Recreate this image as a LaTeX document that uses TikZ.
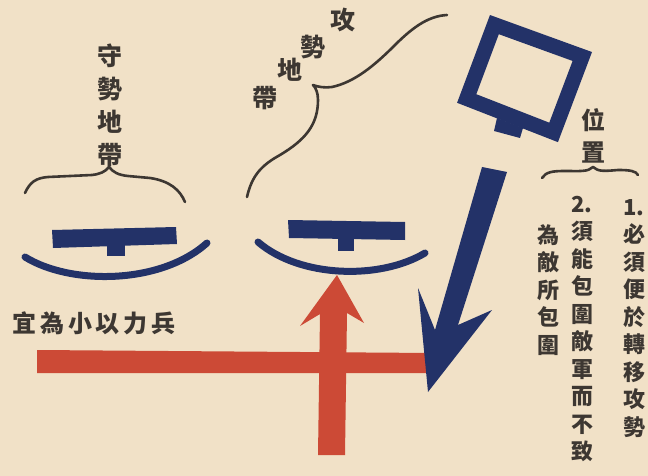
\documentclass[tikz,border=0pt]{standalone}
\usepackage{fontspec}
\newfontfamily\cjk{Noto Sans CJK TC}
\newlength{\du}
\setlength{\du}{1pt}
\begin{document}
\begin{tikzpicture}
\pgftransformxscale{1.000000}
\pgftransformyscale{-1.000000}
% paper
\definecolor{papercolor}{rgb}{0.945098, 0.882353, 0.780392}
\useasboundingbox (0\du,0\du) rectangle (648\du,476\du);
\fill[papercolor] (0\du,0\du) rectangle (648\du,476\du);
% ink colours
\definecolor{navycolor}{rgb}{0.137255, 0.196078, 0.407843}
\definecolor{redcolor}{rgb}{0.800000, 0.290196, 0.211765}
\definecolor{inkcolor}{rgb}{0.239216, 0.215686, 0.196078}
\tikzset{
  colhan/.style={inner sep=0pt, align=center, text=inkcolor, font=\cjk\bfseries\fontsize{22}{27.5}\selectfont},
  bighan/.style={inner sep=0pt, align=center, text=inkcolor, font=\cjk\bfseries\fontsize{25}{33}\selectfont},
  bracket/.style={draw=inkcolor, line width=2.6\du, line cap=round, line join=round},
  lens/.style={draw=navycolor, line width=7\du, line cap=round}
}
% red horizontal bar
\fill[redcolor] (37\du,350\du)--(37\du,373\du)--(432\du,373\du)--(432\du,353\du)--cycle;
% red arrow up
\fill[redcolor] (337\du,275\du)--(364\du,323\du)--(347\du,313\du)--(345\du,455\du)--(318\du,455\du)--(320\du,314\du)--(300\du,326\du)--cycle;
% left unit
\fill[navycolor] (52\du,230\du)--(176\du,227\du)--(177\du,244\du)--(53\du,248\du)--cycle;
\fill[navycolor] (107\du,245\du)--(125\du,245\du)--(125\du,256\du)--(107\du,256\du)--cycle;
\draw[lens] (25\du,257\du) .. controls (70\du,285\du) and (160\du,285\du) .. (207\du,243\du);
% right unit
\fill[navycolor] (288\du,220\du)--(405\du,222\du)--(405\du,240\du)--(289\du,238\du)--cycle;
\fill[navycolor] (338\du,237\du)--(354\du,237\du)--(354\du,251\du)--(338\du,251\du)--cycle;
\draw[lens] (258\du,242\du) .. controls (300\du,278\du) and (380\du,280\du) .. (425\du,253\du);
% command post
\draw[navycolor, line width=15\du, line join=miter] (494.4\du,24.6\du)--(582.3\du,56.5\du)--(553.6\du,132.4\du)--(466.7\du,98.5\du)--cycle;
\fill[navycolor] (497\du,118\du)--(523\du,128\du)--(520\du,138\du)--(494\du,131\du)--cycle;
% blue arrow down
\fill[navycolor] (482\du,167\du)--(507\du,172\du)--(458\du,325\du)--(492\du,310\du)--(428\du,392\du)--(418\du,288\du)--(435\du,330\du)--cycle;
% braces
\draw[bracket] (25\du,193\du) .. controls (30\du,182\du) and (36\du,178\du) .. (48\du,177\du) -- (92\du,175\du) .. controls (100\du,174\du) and (105\du,172\du) .. (109\du,167\du) .. controls (113\du,172\du) and (118\du,175\du) .. (128\du,176\du) -- (150\du,178\du) .. controls (170\du,181\du) and (180\du,190\du) .. (185\du,202\du);
\draw[bracket] (247\du,197\du) .. controls (252\du,175\du) and (262\du,165\du) .. (280\du,155\du) .. controls (305\du,140\du) and (318\du,125\du) .. (318\du,100\du) .. controls (318\du,93\du) and (316\du,88\du) .. (313\du,85\du) .. controls (318\du,87\du) and (325\du,88\du) .. (332\du,87\du) .. controls (355\du,82\du) and (375\du,65\du) .. (395\du,45\du) .. controls (415\du,25\du) and (430\du,16\du) .. (447\du,15\du);
\draw[bracket] (542\du,178\du) .. controls (546\du,172\du) and (552\du,171\du) .. (565\du,171\du) .. controls (580\du,171\du) and (588\du,172\du) .. (593\du,167\du) .. controls (598\du,172\du) and (606\du,171\du) .. (618\du,170\du) .. controls (630\du,170\du) and (636\du,171\du) .. (638\du,175\du);
% setfont left to latex
\node[bighan] (shoushi) at (110\du,105\du){守\\勢\\地\\帶};
\node[bighan] (gong) at (343\du,20\du){攻};
\node[bighan] (shi) at (313\du,47\du){勢};
\node[bighan] (di) at (290\du,70\du){地};
\node[bighan] (dai) at (265\du,98\du){帶};
\node[bighan, font=\cjk\bfseries\fontsize{24}{32}\selectfont] (weizhi) at (593\du,136\du){位\\置};
\node[colhan, anchor=north] (tiao1) at (634\du,199\du){1.\\必\\須\\便\\於\\轉\\移\\攻\\勢};
\node[colhan, anchor=north] (tiao2) at (582\du,196\du){2.\\須\\能\\包\\圍\\敵\\軍\\而\\不\\致};
\node[colhan, anchor=north] (tiao3) at (548\du,224\du){為\\敵\\所\\包\\圍};
\node[inner sep=0pt, text=inkcolor, font=\cjk\bfseries\fontsize{24}{24}\selectfont\addfontfeature{LetterSpace=16}] (bingli) at (94\du,323\du){宜為小以力兵};
\end{tikzpicture}
\end{document}
